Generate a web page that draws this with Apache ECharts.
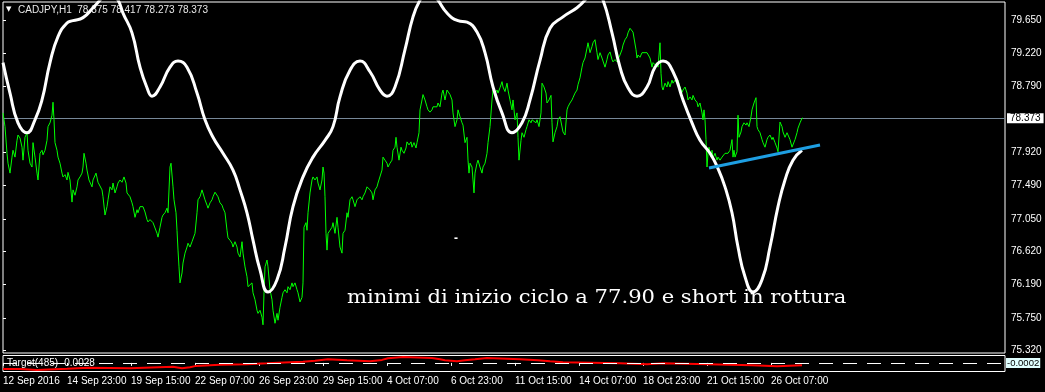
<!DOCTYPE html>
<html><head><meta charset="utf-8">
<script src="https://cdn.jsdelivr.net/npm/echarts@6/dist/echarts.min.js"></script>
<style>html,body{margin:0;padding:0;background:#000;}#c{width:1045px;height:392px;}</style>
</head><body><div id="c"></div>
<script>
// ---- data ----
const symbolName = 'CADJPY,H1';
const ohlc = [78.375, 78.417, 78.273, 78.373];
const lastPrice = 78.373;
const priceTicks = [75.32, 75.75, 76.19, 76.62, 77.05, 77.49, 77.92, 78.79, 79.22, 79.65];
const tickBars = [0, 64, 128, 192, 256, 320, 384, 448, 512, 576, 640, 704, 768];
const xLabels = ['12 Sep 2016', '14 Sep 23:00', '19 Sep 15:00', '22 Sep 07:00', '26 Sep 23:00', '29 Sep 15:00', '4 Oct 07:00', '6 Oct 23:00', '11 Oct 15:00', '14 Oct 07:00', '18 Oct 23:00', '21 Oct 15:00', '26 Oct 07:00'];
const targetName = 'Target(485)';
const targetValue = -0.0028;
const targetLevel = -0.0002;
const noteText = 'minimi di inizio ciclo a 77.90 e short in rottura';

// bar index, close price
const closeSeries = [[0,78.44],[2,78.26],[4,77.91],[5,77.78],[7,77.65],[9,77.86],[10,77.95],[12,77.86],[14,78.08],[15,78.15],[17,78.11],[19,77.99],[20,77.82],[22,78.12],[24,78.18],[25,77.95],[27,77.78],[29,77.73],[30,78.05],[32,77.86],[34,77.65],[35,77.56],[37,77.91],[39,77.95],[40,77.89],[42,77.95],[44,78.08],[45,78.26],[47,78.31],[49,78.41],[50,78.58],[51,78.35],[52,78.05],[54,77.95],[55,77.86],[57,77.78],[59,77.65],[60,77.60],[62,77.63],[64,77.56],[65,77.66],[67,77.56],[69,77.27],[70,77.43],[72,77.36],[74,77.47],[75,77.56],[77,77.60],[79,77.65],[80,77.73],[81,77.91],[83,77.78],[84,77.69],[86,77.56],[89,77.47],[90,77.56],[93,77.65],[95,77.53],[97,77.52],[99,77.43],[100,77.34],[102,77.10],[104,77.21],[105,77.30],[107,77.47],[109,77.43],[110,77.52],[112,77.39],[114,77.47],[115,77.52],[117,77.56],[119,77.53],[121,77.60],[123,77.52],[124,77.39],[127,77.34],[129,77.26],[130,77.21],[132,77.07],[134,77.17],[135,77.13],[137,77.21],[139,77.19],[140,77.21],[142,77.14],[144,77.04],[145,77.01],[147,77.04],[149,77.06],[150,77.00],[152,76.93],[154,76.86],[155,76.81],[157,76.94],[159,77.07],[160,77.10],[162,77.13],[164,77.19],[165,77.13],[167,77.73],[168,77.78],[170,77.47],[171,77.30],[173,77.13],[174,76.90],[175,76.64],[176,76.42],[177,76.21],[179,76.34],[180,76.47],[182,76.60],[184,76.68],[185,76.73],[187,76.68],[189,76.75],[190,76.73],[192,76.86],[194,77.13],[195,77.30],[197,77.34],[199,77.43],[200,77.45],[202,77.30],[204,77.23],[205,77.19],[207,77.26],[209,77.30],[210,77.34],[212,77.40],[214,77.39],[215,77.34],[217,77.26],[219,77.23],[220,77.19],[222,77.13],[224,76.90],[225,76.80],[227,76.77],[229,76.73],[230,76.68],[232,76.75],[234,76.68],[235,76.60],[237,76.55],[239,76.75],[240,76.60],[242,76.42],[244,76.29],[245,76.16],[247,76.14],[249,76.21],[250,76.08],[252,75.99],[254,75.85],[255,75.81],[257,75.85],[259,75.76],[260,75.66],[261,76.08],[262,76.42],[264,76.51],[265,76.42],[267,76.12],[269,75.99],[270,75.85],[272,75.68],[274,75.81],[275,75.72],[277,75.89],[279,76.02],[280,76.08],[282,76.12],[284,76.08],[285,76.16],[287,76.12],[289,76.21],[290,76.16],[292,76.21],[294,76.12],[295,76.08],[297,75.96],[299,76.02],[300,76.21],[301,76.94],[303,77.00],[304,76.90],[305,77.13],[307,77.39],[309,77.56],[310,77.60],[312,77.56],[314,77.60],[315,77.52],[317,77.43],[319,77.56],[320,77.73],[321,77.65],[322,77.34],[323,76.86],[324,76.64],[325,76.86],[327,76.90],[329,76.94],[330,77.00],[332,76.86],[334,77.07],[335,76.94],[337,76.68],[339,76.60],[340,76.86],[342,76.90],[344,77.13],[345,77.07],[347,77.30],[349,77.34],[350,77.30],[352,77.21],[354,77.30],[357,77.34],[359,77.30],[360,77.34],[362,77.39],[364,77.47],[365,77.49],[367,77.43],[369,77.39],[370,77.30],[372,77.43],[374,77.47],[375,77.52],[377,77.53],[379,77.69],[380,77.86],[382,77.82],[384,77.78],[385,77.73],[387,77.78],[389,77.82],[390,77.95],[392,77.99],[393,78.12],[394,77.99],[396,77.82],[398,77.99],[399,77.95],[401,77.91],[403,77.98],[404,78.06],[406,78.02],[408,78.06],[409,77.99],[411,78.05],[413,77.98],[414,78.05],[416,78.18],[417,78.48],[419,78.61],[420,78.68],[422,78.61],[424,78.52],[425,78.48],[427,78.45],[429,78.48],[430,78.52],[432,78.50],[434,78.52],[435,78.57],[437,78.52],[439,78.70],[440,78.74],[442,78.61],[444,78.74],[445,78.75],[447,78.68],[449,78.61],[450,78.44],[452,78.26],[454,78.35],[455,78.48],[457,78.39],[459,78.31],[460,78.28],[462,78.05],[464,78.12],[465,77.82],[466,77.65],[467,77.78],[469,77.73],[470,77.56],[471,77.39],[472,77.65],[474,77.78],[475,77.82],[477,77.73],[479,77.65],[480,77.73],[482,77.78],[484,77.91],[485,78.05],[487,78.26],[489,78.61],[490,78.74],[492,78.70],[494,78.74],[495,78.70],[497,78.77],[499,78.85],[500,78.78],[502,78.72],[504,78.83],[505,78.74],[507,78.61],[509,78.48],[510,78.61],[512,78.35],[514,78.44],[515,78.12],[516,77.82],[518,78.08],[519,78.18],[521,78.12],[523,78.22],[524,78.26],[526,78.35],[528,78.31],[529,78.35],[531,78.37],[533,78.31],[534,78.35],[536,78.26],[538,78.44],[539,78.83],[541,78.78],[543,78.70],[544,78.57],[546,78.61],[548,78.67],[549,78.31],[550,78.06],[552,78.18],[554,78.26],[555,78.35],[557,78.39],[559,78.37],[560,78.19],[562,78.15],[564,78.48],[565,78.52],[567,78.57],[569,78.61],[570,78.64],[572,78.70],[574,78.74],[575,78.81],[577,78.90],[579,79.04],[580,79.10],[582,79.16],[584,79.29],[585,79.36],[587,79.23],[589,79.31],[590,79.36],[592,79.40],[594,79.23],[595,79.14],[597,79.23],[599,79.16],[600,79.14],[602,79.04],[604,79.14],[605,79.20],[607,79.24],[609,79.14],[610,79.11],[612,79.14],[614,79.11],[615,79.14],[617,79.20],[619,79.27],[620,79.33],[622,79.40],[624,79.44],[625,79.49],[627,79.55],[629,79.57],[630,79.50],[632,79.49],[633,79.27],[634,79.16],[635,79.20],[637,79.17],[639,79.23],[640,79.23],[644,79.23],[645,79.23],[647,79.16],[649,79.04],[650,79.10],[652,79.07],[654,79.10],[655,79.04],[657,79.36],[658,78.96],[659,78.78],[660,78.74],[662,78.83],[664,78.78],[665,78.85],[667,78.78],[669,78.87],[670,78.83],[672,78.87],[674,78.83],[675,78.87],[677,78.78],[679,78.71],[680,78.74],[682,78.78],[684,78.70],[685,78.61],[687,78.65],[689,78.61],[690,78.67],[692,78.61],[694,78.58],[695,78.52],[697,78.57],[699,78.44],[700,78.35],[701,78.48],[702,78.35],[703,78.09],[704,77.73],[705,77.91],[706,77.99],[708,77.86],[709,77.95],[710,77.85],[712,77.91],[714,77.82],[715,77.86],[717,77.82],[719,77.86],[720,77.85],[722,77.91],[724,77.93],[725,77.91],[727,77.95],[729,78.09],[730,77.86],[731,77.95],[732,77.86],[734,77.93],[735,78.41],[736,78.12],[738,78.19],[739,78.26],[741,78.31],[743,78.28],[744,78.31],[746,78.26],[748,78.39],[749,78.48],[751,78.57],[753,78.64],[754,78.26],[755,78.22],[757,78.18],[759,78.09],[760,78.05],[762,77.99],[764,78.09],[765,78.12],[767,78.15],[769,78.09],[770,78.12],[772,78.05],[774,77.98],[775,77.93],[777,78.32],[779,78.26],[780,78.19],[782,78.12],[784,78.18],[785,78.18],[787,78.09],[789,77.99],[790,77.99],[792,78.09],[794,78.18],[795,78.24],[797,78.31],[799,78.37],[800,78.37]];

// bar index, cycle indicator value
const cycleSeries = [[0,79.10],[7,78.70],[15,78.31],[24,78.18],[32,78.35],[39,78.61],[47,79.10],[55,79.44],[64,79.62],[70,79.65],[80,79.69],[90,79.82],[97,79.92],[106,80.07],[115,79.92],[120,79.75],[129,79.49],[137,79.04],[144,78.77],[149,78.66],[157,78.78],[167,79.04],[175,79.12],[184,79.04],[194,78.70],[202,78.35],[210,78.12],[220,77.91],[230,77.69],[237,77.43],[244,77.13],[250,76.77],[257,76.38],[265,76.09],[274,76.25],[282,76.68],[290,77.21],[300,77.60],[310,77.86],[322,78.08],[330,78.26],[337,78.65],[347,79.00],[357,79.12],[367,78.98],[377,78.74],[384,78.66],[392,78.78],[402,79.27],[410,79.70],[417,79.92],[426,80.08],[435,79.92],[444,79.75],[455,79.65],[464,79.63],[474,79.50],[482,79.23],[490,78.78],[499,78.44],[509,78.18],[519,78.31],[527,78.61],[537,79.13],[547,79.55],[560,79.70],[574,79.82],[582,79.92],[592,80.10],[600,79.92],[609,79.49],[617,79.04],[625,78.77],[634,78.66],[644,78.78],[652,79.04],[660,79.12],[670,78.98],[680,78.61],[689,78.31],[697,78.08],[707,77.91],[715,77.71],[722,77.47],[729,77.13],[735,76.68],[742,76.29],[750,76.09],[759,76.25],[767,76.68],[775,77.21],[782,77.56],[790,77.82],[799,77.95]];

// trendline endpoints (bar, price)
const trendSeries = [[706,77.717],[817,78.019]];

// Target(485) sub-window steps (bar, value)
const targetSeries = [[0,-0.0031],[17,-0.0036],[34,-0.0029],[64,-0.0024],[85,-0.0027],[127,-0.0019],[170,-0.0027],[179,-0.0022],[187,-0.0016],[192,-0.0009],[217,-0.0007],[244,-0.0002],[264,0.0001],[275,0.0006],[300,0.0011],[312,0.0018],[325,0.0013],[344,0.0008],[367,0.0015],[379,0.0023],[385,0.0030],[400,0.0025],[429,0.0018],[437,0.0013],[442,0.0008],[454,0.0013],[462,0.0018],[472,0.0025],[484,0.0018],[517,0.0013],[535,0.0008],[547,0.0003],[560,-0.0002],[617,-0.0007],[644,-0.0002],[660,-0.0007],[705,-0.0012],[749,-0.0017],[774,-0.0012],[799,-0.0012]];

// ---- chart ----
const AXF = '"Liberation Sans", Arial, sans-serif';
const chart = echarts.init(document.getElementById('c'), null, {renderer: 'canvas'});
const titleText = symbolName + '  ' + ohlc.map(v => v.toFixed(3)).join(' ');

const option = {
  backgroundColor: '#000',
  animation: false,
  grid: [
    {left: 3, top: 2, width: 1002, height: 351, show: true, borderColor: '#fff', borderWidth: 1, backgroundColor: 'transparent'},
    {left: 3, top: 355.5, width: 1002, height: 16, show: true, borderColor: '#fff', borderWidth: 1, backgroundColor: 'transparent'}
  ],
  xAxis: [
    {gridIndex: 0, type: 'value', min: 0, max: 1002, show: false},
    {gridIndex: 1, type: 'value', min: 0, max: 1002,
      axisLine: {show: false}, splitLine: {show: false},
      axisTick: {show: true, customValues: tickBars, length: 3, lineStyle: {color: '#fff'}},
      axisLabel: {customValues: tickBars, formatter: v => xLabels[tickBars.indexOf(v)], color: '#fff', fontSize: 10, fontFamily: AXF, align: 'left', margin: 5}}
  ],
  yAxis: [
    {gridIndex: 0, type: 'value', position: 'right', min: 75.29, max: 79.895,
      axisLine: {show: false}, splitLine: {show: false},
      axisTick: {show: true, customValues: priceTicks, length: 3, lineStyle: {color: '#fff'}},
      axisLabel: {customValues: priceTicks, formatter: v => v.toFixed(3), color: '#fff', fontSize: 10, fontFamily: AXF, margin: 6}},
    {gridIndex: 1, type: 'value', min: -0.0043, max: 0.0037, show: false}
  ],
  series: [
    {type: 'line', xAxisIndex: 0, yAxisIndex: 0, data: [], z: 1, silent: true,
      markLine: {silent: true, symbol: 'none', z: 1, animation: false,
        lineStyle: {color: '#778899', width: 1, type: 'solid'},
        label: {show: true, position: 'end', formatter: lastPrice.toFixed(3), backgroundColor: '#fff', color: '#000', fontSize: 10, fontFamily: AXF, padding: [0, 3, 0, 3], distance: 2},
        data: [{yAxis: lastPrice}]}},
    {type: 'line', xAxisIndex: 0, yAxisIndex: 0, data: closeSeries, symbol: 'none', silent: true, z: 2,
      lineStyle: {color: '#00ff00', width: 1}},
    {type: 'line', xAxisIndex: 0, yAxisIndex: 0, data: cycleSeries, symbol: 'none', silent: true, z: 3, smooth: 0.5,
      lineStyle: {color: '#ffffff', width: 3}},
    {type: 'line', xAxisIndex: 0, yAxisIndex: 0, data: trendSeries, symbol: 'none', silent: true, z: 4,
      lineStyle: {color: '#1e9fe3', width: 3}},
    {type: 'line', xAxisIndex: 1, yAxisIndex: 1, data: targetSeries, step: 'end', symbol: 'none', silent: true, z: 2,
      lineStyle: {color: '#ff0000', width: 2},
      markLine: {silent: true, symbol: 'none', z: 5, animation: false,
        lineStyle: {color: '#ffffff', width: 1, type: [14, 10]},
        label: {show: true, position: 'end', formatter: targetLevel.toFixed(4), backgroundColor: '#e0ffff', color: '#000', fontSize: 9.5, fontFamily: AXF, padding: [0, 1, 0, 1], distance: 1},
        data: [{yAxis: targetLevel}]}}
  ],
  graphic: [
    {type: 'text', left: 6, top: 6, z: 0, style: {text: '\u25BC', fill: '#ffffff', font: '7px "DejaVu Sans"'}},
    {type: 'text', left: 18, top: 5, z: 0, style: {text: titleText, fill: '#e8e8e8', font: '10px ' + AXF}},
    {type: 'text', left: 7, top: 358, z: 10, style: {text: targetName + ' ' + targetValue.toFixed(4), fill: '#ffffff', font: '10px ' + AXF}},
    {type: 'text', left: 454, top: 233, z: 10, style: {text: '-', fill: '#ffffff', font: 'bold 12px ' + AXF}},
    {type: 'text', left: 347, top: 289, z: 1, scaleX: 1.11, style: {text: noteText, fill: '#ffffff', font: '19px "DejaVu Serif", serif'}}
  ]
};
chart.setOption(option);
</script></body></html>
